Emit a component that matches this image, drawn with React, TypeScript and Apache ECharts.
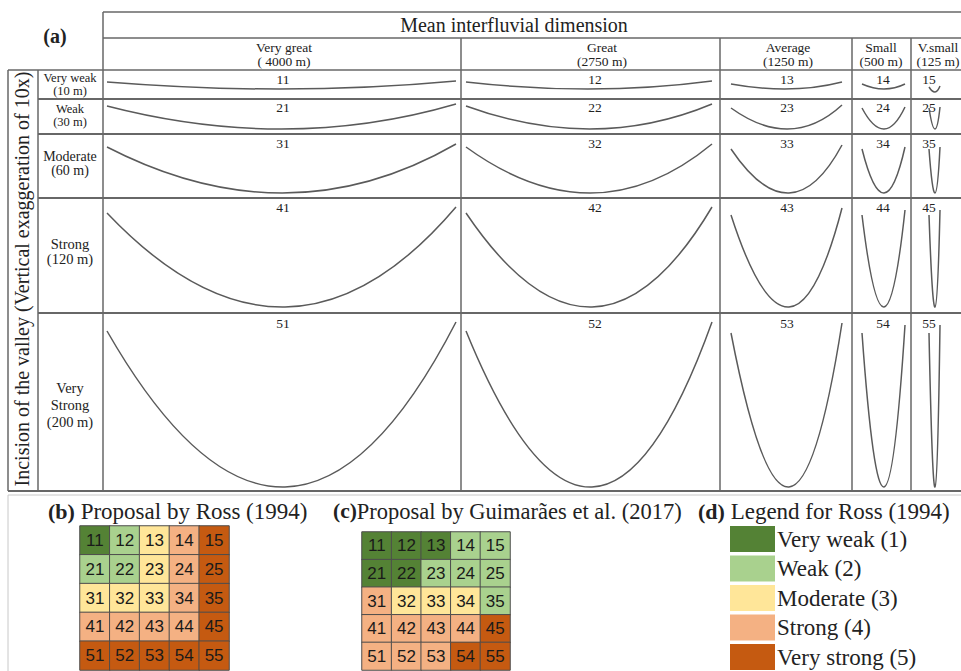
import React, { useEffect, useRef } from 'react';
import * as echarts from 'echarts';

// ---------------- data ----------------
const columnNames = ['Very great', 'Great', 'Average', 'Small', 'V.small'];
const columnDims = ['( 4000 m)', '(2750 m)', '(1250 m)', '(500 m)', '(125 m)'];
const rowNames = [['Very weak'], ['Weak'], ['Moderate'], ['Strong'], ['Very', 'Strong']];
const rowIncisions = ['(10 m)', '(30 m)', '(60 m)', '(120 m)', '(200 m)'];
const cellCodes = [
  ['11', '12', '13', '14', '15'],
  ['21', '22', '23', '24', '25'],
  ['31', '32', '33', '34', '35'],
  ['41', '42', '43', '44', '45'],
  ['51', '52', '53', '54', '55'],
];

// valley profile geometry (figure units)
const colCurveLeft = [107, 466, 731, 862, 929];
const colCurveRight = [456, 712, 842, 905, 940];
const colCurveMid = [285, 592, 789, 884, 935];
const rowCurveLeftY = [82, 106, 147, 213, 331];
const rowCurveRightY = [81, 104, 144, 207, 322];
const rowCurveBottom = [89, 129, 193, 307, 487];

const rossClass = [
  [1, 2, 3, 4, 5],
  [2, 2, 3, 4, 5],
  [3, 3, 3, 4, 5],
  [4, 4, 4, 4, 5],
  [5, 5, 5, 5, 5],
];
const guimaraesClass = [
  [1, 1, 1, 2, 2],
  [1, 1, 2, 2, 2],
  [4, 3, 3, 3, 2],
  [4, 4, 4, 4, 5],
  [4, 4, 4, 5, 5],
];
const classNames = ['Very weak (1)', 'Weak (2)', 'Moderate (3)', 'Strong (4)', 'Very strong (5)'];
const classColors = ['#548235', '#a9d18e', '#ffe699', '#f4b183', '#c55a11'];

// ---------------- layout ----------------
const W = 961;
const H = 671;
const colEdges = [103, 461, 720, 852, 911, 961];
const rowEdges = [70, 99, 134, 198, 313, 491];
const headerTop = 12;
const headerMid = 38;
const outerLeft = 8;
const labelLeft = 38;
const SERIF = 'Liberation Serif';
const SANS = 'Liberation Sans';
const LINE = '#676767';
const TXT = '#222';

function buildGraphic() {
  const g: any[] = [];
  const line = (x1: number, y1: number, x2: number, y2: number, w = 1.5, c = LINE) =>
    g.push({ type: 'line', silent: true, shape: { x1, y1, x2, y2 }, style: { stroke: c, lineWidth: w } });
  const text = (
    x: number,
    y: number,
    lines: string[],
    size: number,
    opts: { align?: string; lh?: number; bold?: boolean; rotation?: number; prefix?: string } = {}
  ) => {
    const tok = {
      fontFamily: SERIF,
      fontSize: size,
      fill: TXT,
      fontWeight: opts.bold ? 'bold' : 'normal',
      lineHeight: opts.lh ?? Math.round(size * 1.2),
    };
    const body = lines
      .map((l, i) => (i === 0 && opts.prefix ? `{b|${opts.prefix}}` : '') + `{s|${l}}`)
      .join('\n');
    g.push({
      type: 'text',
      silent: true,
      x,
      y,
      rotation: opts.rotation ?? 0,
      style: {
        text: body,
        fontFamily: SERIF,
        fontSize: size,
        fill: TXT,
        align: opts.align ?? 'center',
        verticalAlign: 'middle',
        rich: {
          s: tok,
          b: { ...tok, fontWeight: 'bold', fontSize: size - 1 },
        },
      },
    });
  };

  // table frame
  line(colEdges[0], headerTop, W, headerTop);
  line(colEdges[0], headerMid, W, headerMid);
  line(outerLeft, rowEdges[0], W, rowEdges[0]);
  for (let i = 1; i < rowEdges.length - 1; i++) line(labelLeft, rowEdges[i], W, rowEdges[i], 2);
  line(outerLeft, rowEdges[rowEdges.length - 1], W, rowEdges[rowEdges.length - 1], 2.2);
  line(colEdges[0], headerTop, colEdges[0], rowEdges[rowEdges.length - 1]);
  line(outerLeft, rowEdges[0], outerLeft, rowEdges[rowEdges.length - 1]);
  line(labelLeft, rowEdges[0], labelLeft, rowEdges[rowEdges.length - 1]);
  for (let i = 1; i < colEdges.length - 1; i++) line(colEdges[i], headerMid, colEdges[i], rowEdges[rowEdges.length - 1]);
  // bottom panel frame
  line(outerLeft, 495, W, 495, 1, '#c8c8c8');
  line(outerLeft, 495, outerLeft, H, 1, '#c8c8c8');

  // header texts
  text(55, 36, ['(a)'], 20, { bold: true });
  text(514, 25, ['Mean interfluvial dimension'], 20);
  const colTextX = [284, 602, 788, 881, 938];
  columnNames.forEach((n, i) => {
    text(colTextX[i], 54.5, [n, columnDims[i]], 13.5, { lh: 13.5 });
  });

  // row labels
  const rowLabelY = [84.5, 115.5, 163, 251.5, 405];
  const rowLabelSize = [12.5, 12.5, 14, 14.5, 14.5];
  const rowLabelLh = [13.5, 13, 14, 15, 17];
  rowNames.forEach((names, r) => {
    text(70, rowLabelY[r], [...names, rowIncisions[r]], rowLabelSize[r], { lh: rowLabelLh[r] });
  });

  // vertical axis title
  text(22, 279, ['Incision of the valley (Vertical exaggeration of 10x)'], 20, { rotation: Math.PI / 2 });

  // cell codes
  const codeX = [283, 595, 787, 883, 929];
  const codeY = [79, 107, 143, 207, 323];
  cellCodes.forEach((row, r) => row.forEach((c, k) => text(codeX[k], codeY[r], [c], 13.5)));

  // panel titles
  text(48, 511, [' Proposal by Ross (1994)'], 23, { align: 'left', prefix: '(b)' });
  text(333, 511, ['Proposal by Guimarães et al. (2017)'], 22.5, { align: 'left', prefix: '(c)' });
  text(698, 511, [' Legend for Ross (1994)'], 23, { align: 'left', prefix: '(d)' });

  // legend (d)
  classNames.forEach((n, i) => {
    const y = 526 + i * 29.5;
    g.push({
      type: 'rect',
      silent: true,
      shape: { x: 730, y, width: 45, height: 26 },
      style: { fill: classColors[i] },
    });
    text(777, y + 13, [n], 23, { align: 'left', lh: 24 });
  });
  return g;
}

function heatData(classes: number[][]) {
  const out: any[] = [];
  classes.forEach((row, r) => row.forEach((v, c) => out.push([c, r, v, cellCodes[r][c]])));
  return out;
}

const idx = ['1', '2', '3', '4', '5'];

export default function App() {
  const ref = useRef<HTMLDivElement>(null);
  useEffect(() => {
    if (!ref.current) return;
    const chart = echarts.init(ref.current, undefined, { renderer: 'svg' });

    const curveData: number[][] = [];
    for (let r = 0; r < 5; r++)
      for (let c = 0; c < 5; c++)
        curveData.push([
          colCurveLeft[c],
          rowCurveLeftY[r] + (c >= 2 ? 2 : 0) + (r === 0 && c === 4 ? 3 : 0),
          colCurveRight[c],
          rowCurveRightY[r] + (c >= 3 ? 3 : c === 2 ? 1 : 0) + (r === 0 && c === 4 ? 2 : 0),
          colCurveMid[c],
          rowCurveBottom[r] + (r === 0 && c === 4 ? 3 : 0),
        ]);

    const heatLabel = {
      show: true,
      formatter: (p: any) => p.data[3],
      color: '#1a1a1a',
      fontSize: 17,
      fontFamily: SANS,
    };
    const heatItem = { borderColor: '#4d4d4d', borderWidth: 1 };

    chart.setOption({
      animation: false,
      backgroundColor: '#ffffff',
      grid: [
        { left: 0, top: 0, width: W, height: H },
        { left: 80, top: 526, width: 149, height: 144 },
        { left: 362, top: 532, width: 148, height: 138 },
      ],
      xAxis: [
        { type: 'value', gridIndex: 0, min: 0, max: W, show: false },
        { type: 'category', gridIndex: 1, data: idx, show: false },
        { type: 'category', gridIndex: 2, data: idx, show: false },
      ],
      yAxis: [
        { type: 'value', gridIndex: 0, min: 0, max: H, inverse: true, show: false },
        { type: 'category', gridIndex: 1, data: idx, inverse: true, show: false },
        { type: 'category', gridIndex: 2, data: idx, inverse: true, show: false },
      ],
      visualMap: {
        type: 'piecewise',
        show: false,
        dimension: 2,
        seriesIndex: [1, 2],
        pieces: classColors.map((c, i) => ({ value: i + 1, color: c, label: classNames[i] })),
      },
      graphic: buildGraphic(),
      series: [
        {
          type: 'custom',
          xAxisIndex: 0,
          yAxisIndex: 0,
          silent: true,
          data: curveData,
          renderItem: (_params: any, api: any) => {
            const p0 = api.coord([api.value(0), api.value(1)]);
            const p2 = api.coord([api.value(2), api.value(3)]);
            const pb = api.coord([api.value(4), api.value(5)]);
            const cx = 2 * pb[0] - (p0[0] + p2[0]) / 2;
            const cy = 2 * pb[1] - (p0[1] + p2[1]) / 2;
            return {
              type: 'bezierCurve',
              shape: { x1: p0[0], y1: p0[1], x2: p2[0], y2: p2[1], cpx1: cx, cpy1: cy },
              style: { stroke: '#5a5a5a', lineWidth: 1.5, fill: 'none' },
            };
          },
        },
        {
          type: 'heatmap',
          xAxisIndex: 1,
          yAxisIndex: 1,
          data: heatData(rossClass),
          label: heatLabel,
          itemStyle: heatItem,
          silent: true,
        },
        {
          type: 'heatmap',
          xAxisIndex: 2,
          yAxisIndex: 2,
          data: heatData(guimaraesClass),
          label: heatLabel,
          itemStyle: heatItem,
          silent: true,
        },
      ],
    });
    return () => chart.dispose();
  }, []);
  return <div ref={ref} style={{ position: 'fixed', left: 0, top: 0, width: W, height: H }} />;
}
